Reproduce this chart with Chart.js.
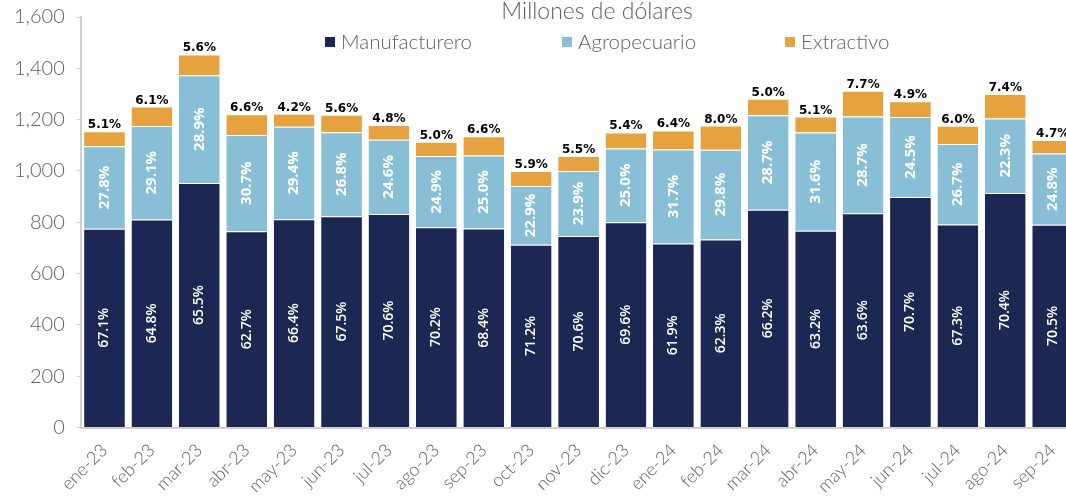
<!DOCTYPE html>
<html>
<head>
<meta charset="utf-8">
<script src="https://cdn.jsdelivr.net/npm/chart.js@4.4.1/dist/chart.umd.min.js"></script>
<style>
  html, body { margin: 0; padding: 0; background: #fff; overflow: hidden; height: 497px; }
  #wrap { position: relative; width: 1080px; height: 516px; margin-top: -7px; }
</style>
</head>
<body>
<div id="wrap"><canvas id="grafico"></canvas></div>
<script>
// Meses (eje X)
const meses = ['ene-23', 'feb-23', 'mar-23', 'abr-23', 'may-23', 'jun-23', 'jul-23', 'ago-23', 'sep-23', 'oct-23', 'nov-23', 'dic-23',
  'ene-24', 'feb-24', 'mar-24', 'abr-24', 'may-24', 'jun-24', 'jul-24', 'ago-24', 'sep-24'];

// Millones de dólares por sector
const manufacturero = [775, 811, 953, 765, 812, 824, 832, 781, 776, 712, 747, 800, 717, 733, 849, 767, 835, 899, 791, 914, 790];
const agropecuario = [321, 364, 420, 375, 360, 327, 290, 277, 284, 229, 253, 288, 367, 350, 368, 383, 377, 311, 314, 290, 278];
const extractivo = [59, 76, 81, 81, 51, 68, 57, 56, 75, 59, 58, 62, 74, 94, 64, 62, 101, 62, 71, 96, 53];

// Participación (%) de cada sector, como aparece en las etiquetas
const pctManuf = ['67.1%', '64.8%', '65.5%', '62.7%', '66.4%', '67.5%', '70.6%', '70.2%', '68.4%', '71.2%', '70.6%', '69.6%',
  '61.9%', '62.3%', '66.2%', '63.2%', '63.6%', '70.7%', '67.3%', '70.4%', '70.5%'];
const pctAgro = ['27.8%', '29.1%', '28.9%', '30.7%', '29.4%', '26.8%', '24.6%', '24.9%', '25.0%', '22.9%', '23.9%', '25.0%',
  '31.7%', '29.8%', '28.7%', '31.6%', '28.7%', '24.5%', '26.7%', '22.3%', '24.8%'];
const pctExtr = ['5.1%', '6.1%', '5.6%', '6.6%', '4.2%', '5.6%', '4.8%', '5.0%', '6.6%', '5.9%', '5.5%', '5.4%',
  '6.4%', '8.0%', '5.0%', '5.1%', '7.7%', '4.9%', '6.0%', '7.4%', '4.7%'];

const yTicks = [0, 200, 400, 600, 800, 1000, 1200, 1400, 1600];

const colores = ['#1c2754', '#88bfd6', '#e6a23f'];
const gris = '#5f5f5f';

// Etiquetas de porcentaje dentro y encima de las barras
const etiquetas = {
  id: 'etiquetas',
  afterDatasetsDraw(chart) {
    const ctx = chart.ctx;
    ctx.save();
    [pctManuf, pctAgro].forEach((arr, di) => {
      chart.getDatasetMeta(di).data.forEach((bar, i) => {
        const cy = (bar.y + bar.base) / 2;
        ctx.save();
        ctx.translate(bar.x, cy);
        ctx.rotate(-Math.PI / 2);
        ctx.fillStyle = '#ffffff';
        ctx.font = (di === 0 ? '600 14px' : 'bold 15px') + ' "Open Sans", sans-serif';
        ctx.textAlign = 'center';
        ctx.textBaseline = 'middle';
        ctx.fillText(arr[i], 0, 0);
        ctx.restore();
      });
    });
    chart.getDatasetMeta(2).data.forEach((bar, i) => {
      ctx.fillStyle = '#000000';
      ctx.font = 'bold 12px "DejaVu Sans", sans-serif';
      ctx.textAlign = 'center';
      ctx.textBaseline = 'alphabetic';
      ctx.fillText(pctExtr[i], bar.x, bar.y - 3);
    });
    ctx.restore();
  }
};

// Título y leyenda dibujados sobre el área del gráfico (el lienzo está desplazado 7px hacia arriba)
const encabezado = {
  id: 'encabezado',
  afterDraw(chart) {
    const ctx = chart.ctx;
    ctx.save();
    ctx.fillStyle = gris;
    ctx.font = '300 23px Lato, sans-serif';
    ctx.textAlign = 'center';
    ctx.textBaseline = 'alphabetic';
    ctx.fillText('Millones de dólares', 597, 26);
    const posX = [325, 562, 785];
    chart.data.datasets.forEach((ds, i) => {
      ctx.fillStyle = ds.backgroundColor;
      ctx.fillRect(posX[i], 44, 10, 10);
      ctx.fillStyle = gris;
      ctx.font = '300 20.5px Lato, sans-serif';
      ctx.textAlign = 'left';
      ctx.textBaseline = 'middle';
      ctx.fillText(ds.label, posX[i] + 16, 49);
    });
    ctx.restore();
  }
};

new Chart(document.getElementById('grafico'), {
  type: 'bar',
  data: {
    labels: meses,
    datasets: [
      { label: 'Manufacturero', data: manufacturero, backgroundColor: colores[0] },
      { label: 'Agropecuario', data: agropecuario, backgroundColor: colores[1] },
      { label: 'Extractivo', data: extractivo, backgroundColor: colores[2] }
    ]
  },
  options: {
    responsive: true,
    maintainAspectRatio: false,
    animation: false,
    layout: { padding: { top: 2, right: 2, left: 2, bottom: 0 } },
    datasets: {
      bar: { barPercentage: 0.86, categoryPercentage: 1, borderColor: 'rgba(255,255,255,0.45)', borderWidth: { top: 1 } }
    },
    plugins: {
      legend: { display: false },
      title: { display: false },
      tooltip: { enabled: false }
    },
    scales: {
      x: {
        stacked: true,
        grid: { display: false, drawTicks: false },
        border: { color: '#d0d0d0', width: 2 },
        ticks: {
          color: gris,
          font: { family: 'Lato', size: 18, weight: 300 },
          minRotation: 45,
          maxRotation: 45,
          padding: 12
        }
      },
      y: {
        stacked: true,
        min: 0,
        max: 1600,
        afterBuildTicks: axis => { axis.ticks = yTicks.map(v => ({ value: v })); },
        grid: { display: true, drawOnChartArea: false, drawTicks: true, tickLength: 4, color: '#d0d0d0' },
        border: { color: '#d0d0d0', width: 2 },
        ticks: {
          color: gris,
          font: { family: 'Lato', size: 20, weight: 300 },
          padding: 12,
          callback: v => v.toLocaleString('en-US')
        }
      }
    }
  },
  plugins: [etiquetas, encabezado]
});
</script>
</body>
</html>
